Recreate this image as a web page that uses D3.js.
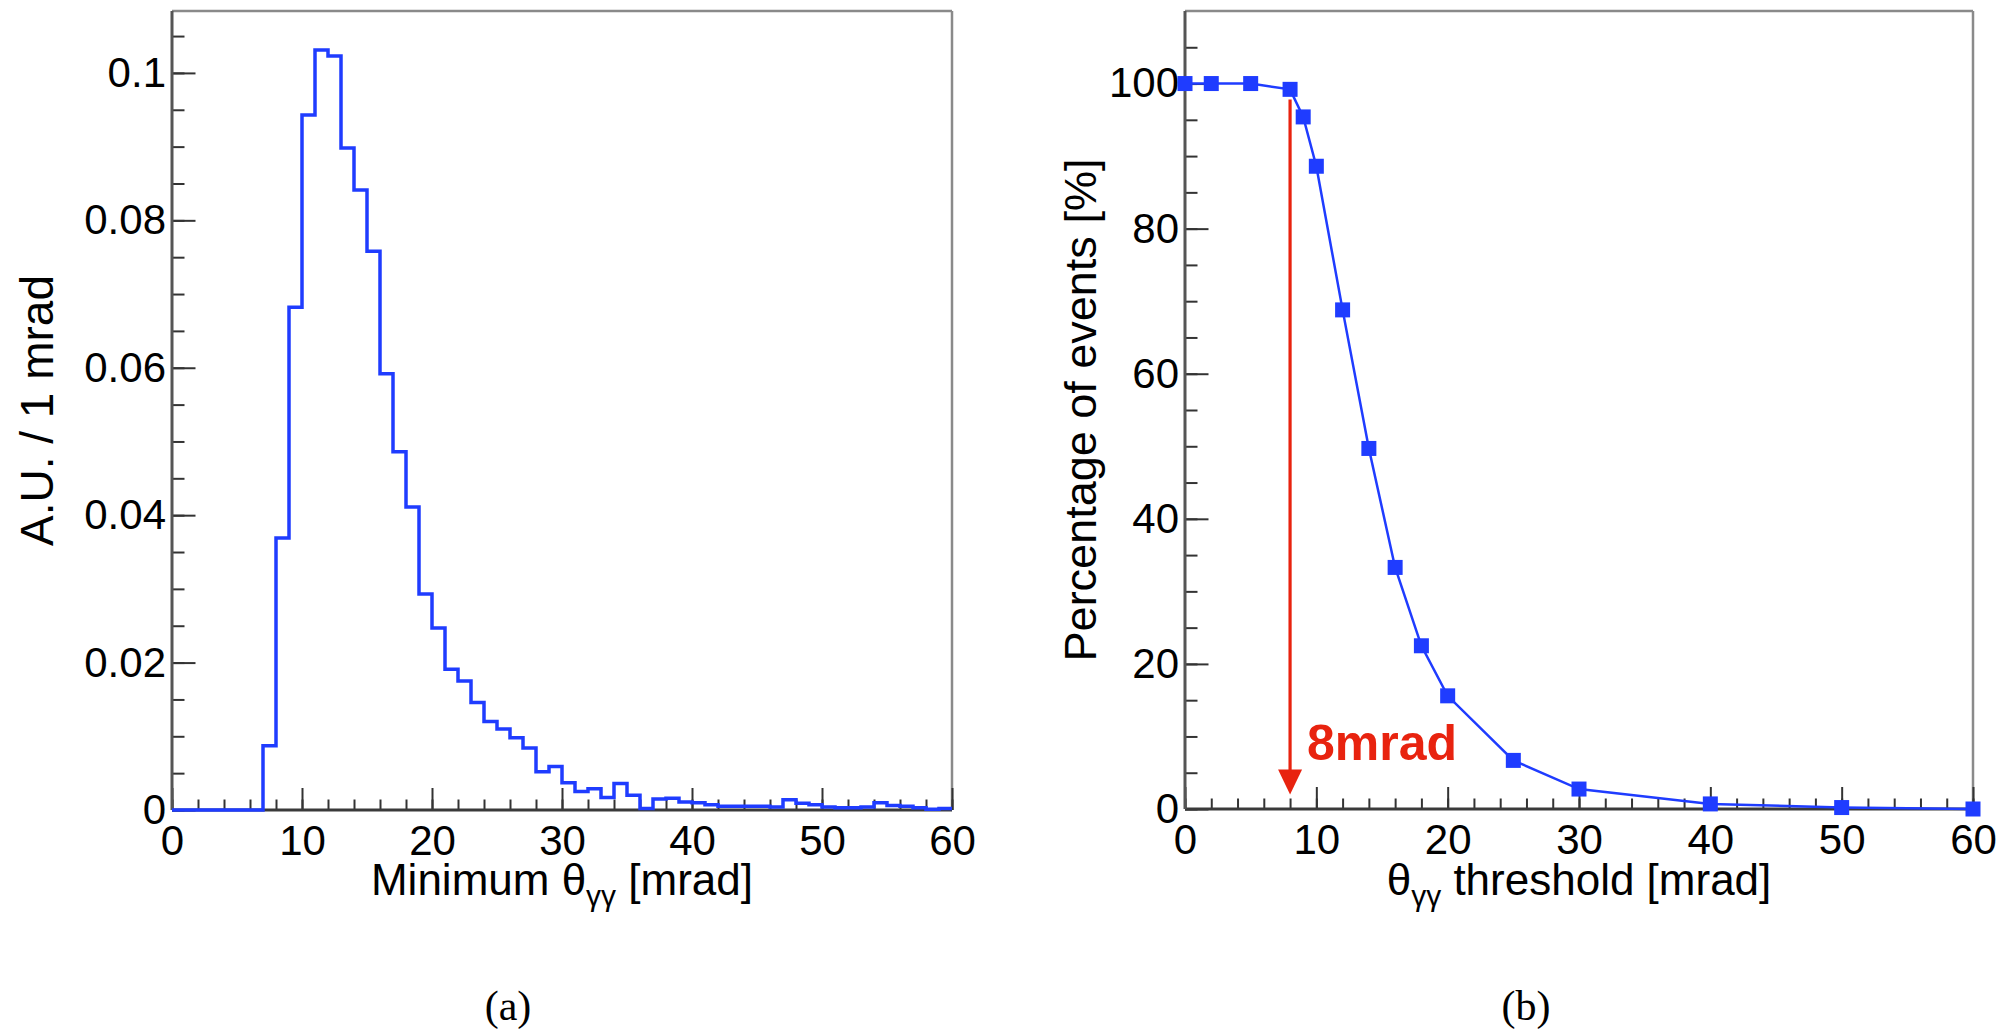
<!DOCTYPE html>
<html>
<head>
<meta charset="utf-8">
<script src="https://cdn.jsdelivr.net/npm/d3@7"></script>
<style>
  html, body { margin: 0; padding: 0; background: #fff; }
  svg { display: block; }
  text { font-family: "Liberation Sans", Arial, Helvetica, sans-serif; fill: #000; }
</style>
</head>
<body>
<svg id="fig" width="2003" height="1033"></svg>
<script>
// ---- (a) minimum opening angle distribution, 1 mrad bins from 0 to 60 ----
const binEdgesA = d3.range(0, 61);            // 0,1,...,60 mrad
const histValues = [
  0, 0, 0, 0, 0, 0, 0, 0.0087, 0.0369, 0.0682,
  0.0943, 0.1031, 0.1023, 0.0898, 0.0841, 0.0758, 0.0592, 0.0486, 0.0411, 0.0293,
  0.0247, 0.0191, 0.0175, 0.0146, 0.0120, 0.0110, 0.0098, 0.0084, 0.0052, 0.0059,
  0.0037, 0.0025, 0.0029, 0.0017, 0.0036, 0.0020, 0.0002, 0.0015, 0.0016, 0.0011,
  0.0010, 0.0007, 0.0005, 0.0005, 0.0005, 0.0005, 0.0004, 0.0014, 0.0009, 0.0007,
  0.0004, 0.0003, 0.0003, 0.0004, 0.0010, 0.0006, 0.0005, 0.0003, 0.0001, 0.0002
];
const xTicksA = [0, 10, 20, 30, 40, 50, 60];
const xMinorA = d3.range(0, 61, 2);
const yTicksA = [0, 0.02, 0.04, 0.06, 0.08, 0.1];
const yTickLabelsA = ["0", "0.02", "0.04", "0.06", "0.08", "0.1"];
const yMinorA = d3.range(0, 0.1051, 0.005);

// ---- (b) fraction of events surviving a threshold on the angle ----
const thresholds = [0, 2, 5, 8, 9, 10, 12, 14, 16, 18, 20, 25, 30, 40, 50, 60];
const percentages = [100, 100, 100, 99.2, 95.4, 88.6, 68.8, 49.7, 33.3, 22.5, 15.6, 6.7, 2.75, 0.7, 0.2, 0];
const xTicksB = [0, 10, 20, 30, 40, 50, 60];
const xMinorB = d3.range(0, 61, 2);
const yTicksB = [0, 20, 40, 60, 80, 100];
const yMinorB = d3.range(0, 106, 5);
const cutValue = 8;           // chosen cut [mrad]
const cutArrowFrom = 97.8;    // arrow spans this range in percent
const cutArrowTo = 2.0;
const cutLabel = "8mrad";

const blue = "#1f3cff";
const red = "#e8230f";

const svg = d3.select("#fig");
svg.append("rect").attr("width", 2003).attr("height", 1033).attr("fill", "#fff");

// frame geometry of the two pads
const padA = { left: 172, right: 952, top: 11, bottom: 810 };
const padB = { left: 1185, right: 1973, top: 11, bottom: 809 };

const xA = d3.scaleLinear().domain([0, 60]).range([padA.left, padA.right]);
const yA = d3.scaleLinear().domain([0, 0.1084]).range([padA.bottom, padA.top]);
const xB = d3.scaleLinear().domain([0, 60]).range([padB.left, padB.right]);
const yB = d3.scaleLinear().domain([0, 110]).range([padB.bottom, padB.top]);

function drawFrame(pad) {
  const g = svg.append("g");
  // top and right edges of the frame are lighter
  g.append("line").attr("x1", pad.left).attr("x2", pad.right).attr("y1", pad.top).attr("y2", pad.top)
    .attr("stroke", "#8a8a8a").attr("stroke-width", 2.5);
  g.append("line").attr("x1", pad.right).attr("x2", pad.right).attr("y1", pad.top).attr("y2", pad.bottom)
    .attr("stroke", "#8a8a8a").attr("stroke-width", 2.5);
}

function drawAxes(pad, x, y, xt, xm, yt, ym, yFmt) {
  const tickColor = "#333";
  // minor ticks first (no labels)
  const gxm = svg.append("g").attr("transform", `translate(0,${pad.bottom})`)
    .call(d3.axisBottom(x).tickValues(xm).tickSize(-10.5).tickFormat(""));
  const gym = svg.append("g").attr("transform", `translate(${pad.left},0)`)
    .call(d3.axisLeft(y).tickValues(ym).tickSize(-12.5).tickFormat(""));
  [gxm, gym].forEach(g => g.selectAll(".tick text").remove());
  const gx = svg.append("g").attr("transform", `translate(0,${pad.bottom})`)
    .call(d3.axisBottom(x).tickValues(xt).tickSize(-22).tickPadding(15).tickFormat(d3.format("~g")));
  const gy = svg.append("g").attr("transform", `translate(${pad.left},0)`)
    .call(d3.axisLeft(y).tickValues(yt).tickSize(-23.5).tickPadding(6).tickFormat(yFmt));
  [gxm, gym, gx, gy].forEach(g => {
    g.selectAll(".domain").remove();
    g.selectAll(".tick line").attr("stroke", tickColor).attr("stroke-width", 2);
    g.selectAll(".tick text").attr("font-size", 42).attr("font-family", "Liberation Sans, Arial, sans-serif").attr("fill", "#000");
  });
  // axis lines
  svg.append("line").attr("x1", pad.left).attr("x2", pad.right).attr("y1", pad.bottom).attr("y2", pad.bottom)
    .attr("stroke", "#3a3a3a").attr("stroke-width", 3);
  svg.append("line").attr("x1", pad.left).attr("x2", pad.left).attr("y1", pad.top).attr("y2", pad.bottom)
    .attr("stroke", "#555").attr("stroke-width", 3);
}

// ===== panel (a) =====
drawFrame(padA);
const histPoints = histValues.map((v, i) => [binEdgesA[i], v]);
histPoints.push([binEdgesA[60], histValues[59]]);
drawAxes(padA, xA, yA, xTicksA, xMinorA, yTicksA, yMinorA, d => yTickLabelsA[yTicksA.indexOf(d)]);
svg.append("path")
  .datum(histPoints)
  .attr("fill", "none")
  .attr("stroke", blue)
  .attr("stroke-width", 3.5)
  .attr("d", d3.line().x(d => xA(d[0])).y(d => yA(d[1])).curve(d3.curveStepAfter));

// axis titles (a)
const titleA = svg.append("text")
  .attr("x", (padA.left + padA.right) / 2).attr("y", 895)
  .attr("text-anchor", "middle").attr("font-size", 44);
titleA.append("tspan").text("Minimum θ");
titleA.append("tspan").attr("font-size", 30).attr("dy", 11).text("γγ");
titleA.append("tspan").attr("dy", -11).text(" [mrad]");

svg.append("text")
  .attr("transform", `translate(53,${(padA.top + padA.bottom) / 2}) rotate(-90)`)
  .attr("text-anchor", "middle").attr("font-size", 46)
  .text("A.U. / 1 mrad");

// ===== panel (b) =====
drawFrame(padB);
drawAxes(padB, xB, yB, xTicksB, xMinorB, yTicksB, yMinorB, d3.format("~g"));

// cut marker
svg.append("line")
  .attr("x1", xB(cutValue)).attr("x2", xB(cutValue))
  .attr("y1", yB(cutArrowFrom)).attr("y2", yB(cutArrowTo) - 20)
  .attr("stroke", red).attr("stroke-width", 3.2);
const tipX = xB(cutValue), tipY = yB(cutArrowTo);
svg.append("path")
  .attr("d", `M${tipX},${tipY} L${tipX - 12},${tipY - 25} L${tipX + 12},${tipY - 25} Z`)
  .attr("fill", red);
svg.append("text")
  .attr("x", xB(cutValue) + 17).attr("y", yB(6.8))
  .attr("font-size", 50).attr("font-weight", "bold")
  .style("fill", red)
  .text(cutLabel);

const pts = thresholds.map((t, i) => [t, percentages[i]]);
svg.append("path")
  .datum(pts)
  .attr("fill", "none")
  .attr("stroke", blue)
  .attr("stroke-width", 2.5)
  .attr("d", d3.line().x(d => xB(d[0])).y(d => yB(d[1])));
svg.append("g").selectAll("rect")
  .data(pts).join("rect")
  .attr("x", d => xB(d[0]) - 7.5).attr("y", d => yB(d[1]) - 7.5)
  .attr("width", 15).attr("height", 15)
  .attr("fill", blue);

const titleB = svg.append("text")
  .attr("x", (padB.left + padB.right) / 2).attr("y", 895)
  .attr("text-anchor", "middle").attr("font-size", 44);
titleB.append("tspan").text("θ");
titleB.append("tspan").attr("font-size", 30).attr("dy", 11).text("γγ");
titleB.append("tspan").attr("dy", -11).text(" threshold [mrad]");

svg.append("text")
  .attr("transform", `translate(1096,${(padB.top + padB.bottom) / 2}) rotate(-90)`)
  .attr("text-anchor", "middle").attr("font-size", 45)
  .text("Percentage of events [%]");

// sub-figure captions
svg.append("text").attr("x", 508).attr("y", 1020).attr("text-anchor", "middle")
  .style("font-family", "'Liberation Serif', serif")
  .attr("font-size", 42).text("(a)");
svg.append("text").attr("x", 1526).attr("y", 1020).attr("text-anchor", "middle")
  .style("font-family", "'Liberation Serif', serif")
  .attr("font-size", 42).text("(b)");
</script>
</body>
</html>
